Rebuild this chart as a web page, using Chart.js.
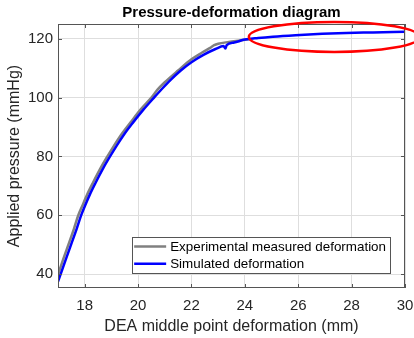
<!DOCTYPE html>
<html>
<head>
<meta charset="utf-8">
<script src="https://cdn.jsdelivr.net/npm/chart.js@4"></script>
<style>
  html, body { margin: 0; padding: 0; background: #fff; }
</style>
</head>
<body>
<canvas id="chart" width="414" height="338"></canvas>
<script>
// values
const expX = [17.0, 17.2, 17.4, 17.6, 17.76, 17.9, 18.1, 18.3, 18.6, 18.85, 19.1, 19.4, 19.72, 20.1, 20.5, 20.72, 21.0, 21.5, 22.0, 22.4, 22.7, 22.85, 23.0, 23.4, 23.8, 24.2];
const expY = [39.8, 45.2, 50.3, 55.5, 60.0, 63.0, 67.2, 70.9, 76.1, 80.0, 83.7, 87.8, 91.6, 96.0, 100.0, 102.6, 105.2, 109.2, 113.0, 115.3, 116.9, 117.8, 118.3, 118.9, 119.4, 119.9];

const simX = [17.0, 17.1, 17.3, 17.5, 17.7, 17.86, 18.0, 18.2, 18.4, 18.7, 18.95, 19.2, 19.5, 19.8, 20.2, 20.6, 20.9, 21.23, 21.6, 22.0, 22.45, 22.9, 23.2, 23.27, 23.32, 23.6, 24.0, 24.5, 25.05, 25.9, 26.9, 27.8, 28.8, 30.0];
const simY = [37.5, 40.0, 45.2, 50.3, 55.4, 59.8, 63.0, 67.2, 70.9, 76.1, 80.0, 83.7, 87.8, 91.4, 95.9, 100.0, 103.0, 106.1, 109.2, 112.0, 114.5, 116.5, 117.5, 116.7, 117.8, 118.7, 119.7, 120.25, 120.7, 121.2, 121.65, 121.95, 122.15, 122.4];

const xTicks = [18, 20, 22, 24, 26, 28, 30];
const yTicks = [40, 60, 80, 100, 120];

const seriesLabels = ['Experimental measured deformation', 'Simulated deformation'];

// red highlight ellipse, in data units
const highlight = { cx: 27.35, cy: 120.6, rx: 3.2, ry: 5.1 };

const FONT = "'Liberation Sans', Arial, sans-serif";
const TXT = '#262626';

const toPts = (xs, ys) => xs.map((v, i) => ({ x: v, y: ys[i] }));

const frame = {
  id: 'frame',
  afterDraw(chart) {
    const { ctx, chartArea: a, scales: { x, y } } = chart;
    ctx.save();

    // title centred over the axes
    ctx.fillStyle = '#000';
    ctx.font = 'bold 15px ' + FONT;
    ctx.textAlign = 'center';
    ctx.textBaseline = 'alphabetic';
    ctx.fillText('Pressure-deformation diagram', (a.left + a.right) / 2, 17);

    // axes box + inward ticks
    ctx.strokeStyle = '#555';
    ctx.lineWidth = 1;
    ctx.strokeRect(a.left + 0.5, a.top + 0.5, a.right - a.left - 1, a.bottom - a.top - 1);
    ctx.beginPath();
    xTicks.forEach(v => {
      const px = Math.round(x.getPixelForValue(v)) + 0.5;
      ctx.moveTo(px, a.bottom); ctx.lineTo(px, a.bottom - 4);
      ctx.moveTo(px, a.top); ctx.lineTo(px, a.top + 4);
    });
    yTicks.forEach(v => {
      const py = Math.round(y.getPixelForValue(v)) + 0.5;
      ctx.moveTo(a.left, py); ctx.lineTo(a.left + 4, py);
      ctx.moveTo(a.right, py); ctx.lineTo(a.right - 4, py);
    });
    ctx.stroke();

    // legend box, lower right inside the axes
    ctx.font = '13.4px ' + FONT;
    const maxW = Math.max(...seriesLabels.map(t => ctx.measureText(t).width));
    const boxW = 2 + 32 + 4 + maxW + 4;
    const boxH = 36;
    const bx = a.right - 15 - boxW;
    const by = a.bottom - 15 - boxH;
    ctx.fillStyle = '#fff';
    ctx.fillRect(bx, by, boxW, boxH);
    ctx.strokeStyle = '#555';
    ctx.strokeRect(Math.round(bx) + 0.5, Math.round(by) + 0.5, Math.round(boxW), boxH);
    chart.data.datasets.forEach((ds, i) => {
      const ry = by + 9.5 + i * 17.3;
      ctx.strokeStyle = ds.borderColor;
      ctx.lineWidth = 2.5;
      ctx.beginPath();
      ctx.moveTo(bx + 2, ry); ctx.lineTo(bx + 34, ry);
      ctx.stroke();
      ctx.fillStyle = '#000';
      ctx.textAlign = 'left';
      ctx.textBaseline = 'middle';
      ctx.fillText(ds.label, bx + 38, ry + 0.5);
    });

    // red ellipse annotation
    const cx = x.getPixelForValue(highlight.cx);
    const cy = y.getPixelForValue(highlight.cy);
    const rx = x.getPixelForValue(highlight.cx + highlight.rx) - cx;
    const ryy = cy - y.getPixelForValue(highlight.cy + highlight.ry);
    ctx.strokeStyle = '#ff0000';
    ctx.lineWidth = 2.5;
    ctx.beginPath();
    ctx.ellipse(cx, cy, rx, ryy, 0, 0, Math.PI * 2);
    ctx.stroke();

    ctx.restore();
  }
};

new Chart(document.getElementById('chart'), {
  type: 'line',
  data: {
    datasets: [
      {
        label: seriesLabels[0],
        data: toPts(expX, expY),
        borderColor: '#808080',
        borderWidth: 2.5,
        order: 1
      },
      {
        label: seriesLabels[1],
        data: toPts(simX, simY),
        borderColor: '#0000ff',
        borderWidth: 2.5,
        order: 0
      }
    ]
  },
  options: {
    responsive: false,
    animation: false,
    layout: { padding: { top: 24, right: 9, left: 0, bottom: 0 } },
    elements: {
      point: { radius: 0 },
      line: { cubicInterpolationMode: 'monotone', fill: false }
    },
    plugins: {
      legend: { display: false },
      title: { display: false },
      tooltip: { enabled: false }
    },
    scales: {
      x: {
        type: 'linear',
        min: 17,
        max: 30,
        afterBuildTicks: s => { s.ticks = xTicks.map(v => ({ value: v })); },
        afterFit: s => { s.height = 50; s.paddingLeft = 0; s.paddingRight = 0; },
        grid: { color: '#dedede', drawTicks: false },
        border: { display: false },
        ticks: { padding: 9, color: TXT, font: { family: FONT, size: 15 } },
        title: {
          display: true,
          text: 'DEA middle point deformation (mm)',
          color: TXT,
          font: { family: FONT, size: 16 },
          padding: { top: 0, bottom: 2 }
        }
      },
      y: {
        min: 35.3,
        max: 125,
        afterBuildTicks: s => { s.ticks = yTicks.map(v => ({ value: v })); },
        afterFit: s => { s.width = 58; s.paddingTop = 0; s.paddingBottom = 0; },
        grid: { color: '#dedede', drawTicks: false },
        border: { display: false },
        ticks: { padding: 5, color: TXT, font: { family: FONT, size: 15 } },
        title: {
          display: true,
          text: 'Applied pressure (mmHg)',
          color: TXT,
          font: { family: FONT, size: 16 },
          padding: { top: 5, bottom: 0 }
        }
      }
    }
  },
  plugins: [frame]
});
</script>
</body>
</html>
